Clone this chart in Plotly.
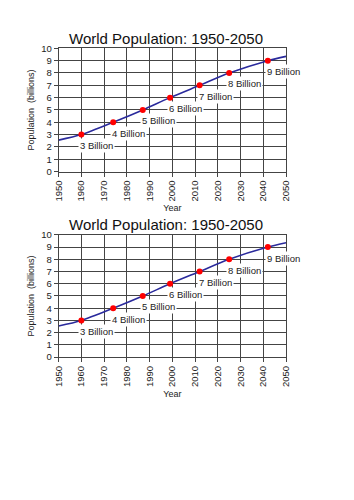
import plotly.graph_objects as go

# Data
curve_years = [1950, 1960, 1974, 1987, 1999, 2012, 2025, 2042, 2050]
curve_pop = [2.55, 3.0, 4.0, 5.0, 6.0, 7.0, 8.0, 9.0, 9.35]
milestone_years = [1960, 1974, 1987, 1999, 2012, 2025, 2042]
milestone_pop = [3, 4, 5, 6, 7, 8, 9]
milestone_labels = ["3 Billion", "4 Billion", "5 Billion", "6 Billion",
                    "7 Billion", "8 Billion", "9 Billion"]
chart_title = "World Population: 1950-2050"
x_title = "Year"
y_title = "Population  (billions)"

FONT = "Liberation Sans, Arial, sans-serif"
W, H = 354, 500

fig = go.Figure()

panels = [("x", "y", 43.3, 169.3), ("x2", "y2", 234.0, 359.0)]
x0px, x1px = 54.3, 289.0

for xa, ya, top, bot in panels:
    fig.add_trace(go.Scatter(x=curve_years, y=curve_pop, mode="lines",
                             line=dict(color="#2a2a9c", width=1.6, shape="spline", smoothing=0.8),
                             xaxis=xa, yaxis=ya, showlegend=False, hoverinfo="skip"))
    fig.add_trace(go.Scatter(x=milestone_years, y=milestone_pop, mode="markers",
                             marker=dict(color="#ff0000", size=6),
                             xaxis=xa, yaxis=ya, showlegend=False))
    for yr, p, lab in zip(milestone_years, milestone_pop, milestone_labels):
        fig.add_annotation(x=yr, y=p, xref=xa, yref=ya, text=lab, showarrow=False,
                           xanchor="left", yanchor="middle", xshift=-3, yshift=-11,
                           bgcolor="white", borderpad=1,
                           font=dict(family=FONT, size=9.5, color="#222"))
    # panel title
    fig.add_annotation(x=165.5 / W, y=1 - (top - 10.5) / H, xref="paper", yref="paper",
                       text=chart_title, showarrow=False, xanchor="center", yanchor="middle",
                       font=dict(family=FONT, size=15, color="#111"))

axis_common = dict(showgrid=True, gridcolor="#444444", gridwidth=1,
                   showline=True, linecolor="#444444", linewidth=1, mirror=True,
                   ticks="outside", ticklen=4, tickcolor="#444444", zeroline=False,
                   tickfont=dict(family=FONT, size=9.5, color="#222"))

layout_axes = {}
for i, (xa, ya, top, bot) in enumerate(panels):
    sx = "" if i == 0 else "2"
    layout_axes["xaxis" + sx] = dict(axis_common, domain=[x0px / W, x1px / W], range=[1950, 2050],
                                     dtick=10, tick0=1950, tickangle=-90, anchor="y" + sx,
                                     title=dict(text=x_title, standoff=4,
                                                font=dict(family=FONT, size=9, color="#222")))
    layout_axes["yaxis" + sx] = dict(axis_common, domain=[1 - bot / H, 1 - top / H], range=[0, 10],
                                     dtick=1, anchor="x" + sx,
                                     title=dict(text=y_title, standoff=4,
                                                font=dict(family=FONT, size=9, color="#222")))

fig.update_layout(width=W, height=H, margin=dict(l=0, r=0, t=0, b=0),
                  paper_bgcolor="white", plot_bgcolor="white", **layout_axes)

fig.write_html("out.html")
